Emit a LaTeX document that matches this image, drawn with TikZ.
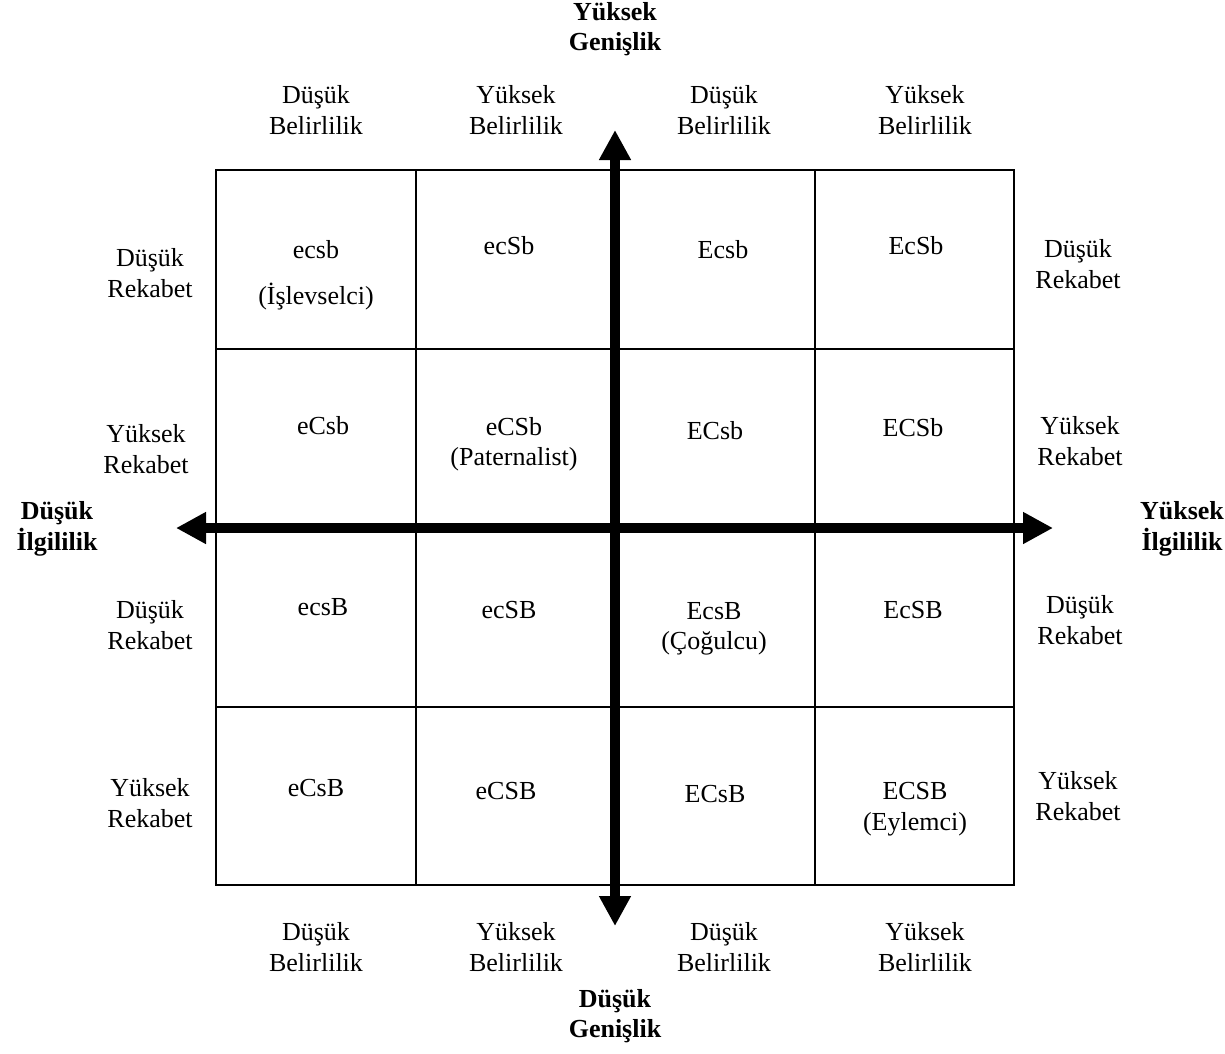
\documentclass[tikz,border=0pt]{standalone}
\usepackage{fontspec}
\setmainfont{Liberation Serif}
\usetikzlibrary{arrows.meta}
\begin{document}
\begin{tikzpicture}[x=1pt,y=-1pt,
  txt/.style={align=center,inner sep=0pt,font=\fontsize{26}{30.5}\selectfont},
  btxt/.style={txt,font=\fontsize{26}{30.5}\selectfont\bfseries},
  gridline/.style={line width=1.6pt},
  bigarrow/.style={line width=10pt,-{Triangle[length=30pt,width=30pt]}}]
\useasboundingbox (0,0) rectangle (1225,1053);
% grid
\draw[gridline] (216,170) rectangle (1014,885);
\draw[gridline] (416,170) -- (416,885);
\draw[gridline] (815,170) -- (815,885);
\draw[gridline] (216,349) -- (1014,349);
\draw[gridline] (216,707) -- (1014,707);
\draw[gridline] (615,170) -- (615,885);
\draw[gridline] (216,528) -- (1014,528);
% arrows
\coordinate (c) at (615,528);
\coordinate (top) at (615,130);
\coordinate (bot) at (615,926);
\coordinate (lft) at (176,528);
\coordinate (rgt) at (1053,528);
\draw[bigarrow] (c) -- (top);
\draw[bigarrow] (c) -- (bot);
\draw[bigarrow] (c) -- (lft);
\draw[bigarrow] (c) -- (rgt);
% axis titles
\node[btxt] (tt) at (615,29) {Yüksek\\Genişlik};
\node[btxt] (bt) at (615,1016) {Düşük\\Genişlik};
\node[btxt] (lt) at (57,529) {Düşük\\İlgililik};
\node[btxt] (rt) at (1182,529) {Yüksek\\İlgililik};
% column labels
\node[txt] (t1) at (316,110) {Düşük\\Belirlilik};
\node[txt] (t2) at (516,110) {Yüksek\\Belirlilik};
\node[txt] (t3) at (724,110) {Düşük\\Belirlilik};
\node[txt] (t4) at (925,110) {Yüksek\\Belirlilik};
\node[txt] (b1) at (316,947) {Düşük\\Belirlilik};
\node[txt] (b2) at (516,947) {Yüksek\\Belirlilik};
\node[txt] (b3) at (724,947) {Düşük\\Belirlilik};
\node[txt] (b4) at (925,947) {Yüksek\\Belirlilik};
% row labels
\node[txt] (l1) at (150,273) {Düşük\\Rekabet};
\node[txt] (l2) at (146,449) {Yüksek\\Rekabet};
\node[txt] (l3) at (150,625) {Düşük\\Rekabet};
\node[txt] (l4) at (150,803) {Yüksek\\Rekabet};
\node[txt] (r1) at (1078,264) {Düşük\\Rekabet};
\node[txt] (r2) at (1080,441) {Yüksek\\Rekabet};
\node[txt] (r3) at (1080,620) {Düşük\\Rekabet};
\node[txt] (r4) at (1078,796) {Yüksek\\Rekabet};
% cells
\node[txt] (a11) at (316,250) {ecsb};
\node[txt] (a11b) at (316,297) {(İşlevselci)};
\node[txt] (a12) at (509,246) {ecSb};
\node[txt] (a13) at (723,250) {Ecsb};
\node[txt] (a14) at (916,246) {EcSb};
\node[txt] (a21) at (323,426) {eCsb};
\node[txt] (a22) at (514,444) {eCSb\\(Paternalist)};
\node[txt] (a23) at (715,431) {ECsb};
\node[txt] (a24) at (913,428) {ECSb};
\node[txt] (a31) at (323,607) {ecsB};
\node[txt] (a32) at (509,610) {ecSB};
\node[txt] (a33) at (714,629) {EcsB\\(Çoğulcu)};
\node[txt] (a34) at (913,610) {EcSB};
\node[txt] (a41) at (316,788) {eCsB};
\node[txt] (a42) at (506,791) {eCSB};
\node[txt] (a43) at (715,794) {ECsB};
\node[txt] (a44) at (915,809) {ECSB\\(Eylemci)};
\end{tikzpicture}
\end{document}
